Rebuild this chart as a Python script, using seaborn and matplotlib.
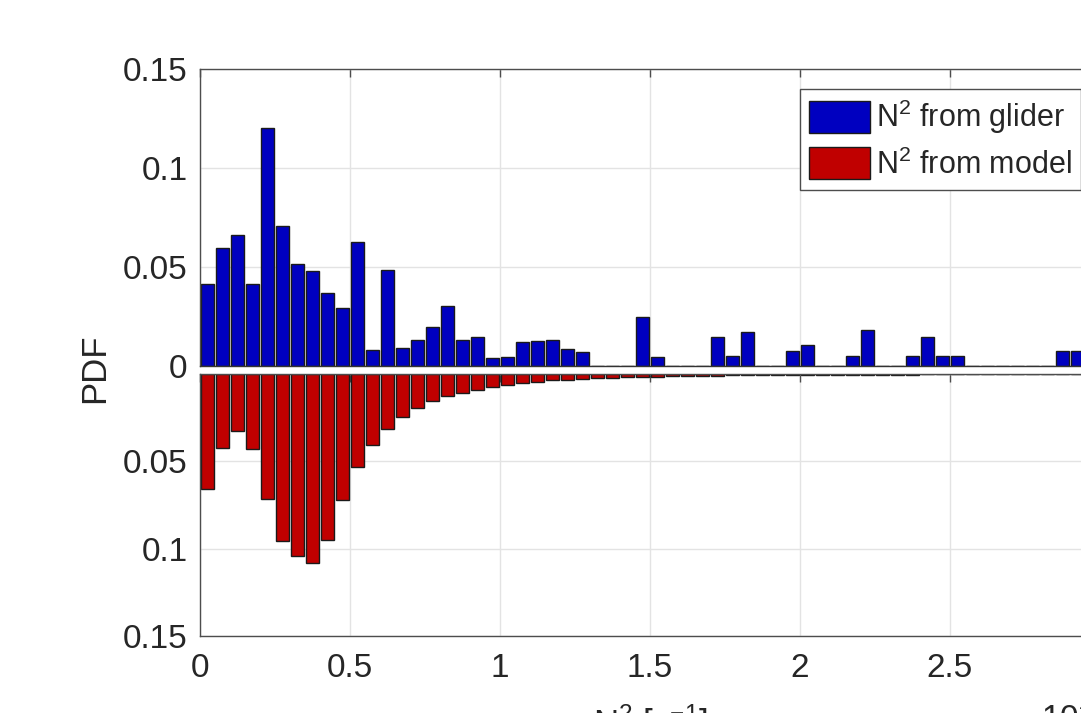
import numpy as np
import pandas as pd
import matplotlib
matplotlib.use("Agg")
import matplotlib.pyplot as plt
import seaborn as sns
from matplotlib.patches import Patch

# --- data (bin width 0.05) ---
bin_centers = np.round(np.arange(0.025, 3.0, 0.05), 3)
glider_pdf = [0.0416, 0.0594, 0.0663, 0.0413, 0.1204, 0.0705, 0.0517, 0.0478, 0.0369, 0.0293,
              0.0626, 0.0082, 0.0486, 0.0092, 0.0130, 0.0199, 0.0305, 0.0130, 0.0145, 0.0040,
              0.0045, 0.0121, 0.0128, 0.0133, 0.0086, 0.0072, 0.0, 0.0, 0.0, 0.0246,
              0.0044, 0.0, 0.0, 0.0, 0.0146, 0.0051, 0.0170, 0.0, 0.0, 0.0074,
              0.0104, 0.0, 0.0, 0.0052, 0.0184, 0.0, 0.0, 0.0052, 0.0146, 0.0052,
              0.0052, 0.0, 0.0, 0.0, 0.0, 0.0, 0.0, 0.0074, 0.0074, 0.0]
model_pdf = [0.0657, 0.0423, 0.0326, 0.0430, 0.0718, 0.0954, 0.1044, 0.1080, 0.0950, 0.0724,
             0.0533, 0.0404, 0.0316, 0.0248, 0.0196, 0.0156, 0.0128, 0.0107, 0.0091, 0.0076,
             0.0063, 0.0052, 0.0044, 0.0036, 0.0032, 0.0029, 0.0025, 0.0021, 0.0019, 0.0017,
             0.0015, 0.0013, 0.0011, 0.0010, 0.0009, 0.0008, 0.0007, 0.0007, 0.0006, 0.0005,
             0.0005, 0.0004, 0.0004, 0.0004, 0.0003, 0.0003, 0.0003, 0.0003, 0.0002, 0.0002,
             0.0002, 0.0002, 0.0002, 0.0001, 0.0001, 0.0001, 0.0001, 0.0001, 0.0001, 0.0001]
x_ticks = [0, 0.5, 1, 1.5, 2, 2.5, 3]
x_ticklabels = ["0", "0.5", "1", "1.5", "2", "2.5", ""]  # "3" falls outside the cropped figure
y_ticks = [0, 0.05, 0.1, 0.15]
y_ticklabels = ["0", "0.05", "0.1", "0.15"]

df = pd.DataFrame({"x": bin_centers, "glider": glider_pdf, "model": model_pdf})

BLUE = "#0000C0"
RED = "#C00000"
TXT = "#262626"
SPINE = "#4d4d4d"
GRID = "#e3e3e3"
FS = 24

sns.set_style("white")
plt.rcParams["font.family"] = ["Liberation Sans", "DejaVu Sans"]
plt.rcParams["mathtext.fontset"] = "custom"
plt.rcParams["mathtext.rm"] = "Liberation Sans"
plt.rcParams["mathtext.it"] = "Liberation Sans"

W, H = 1081, 713
fig = plt.figure(figsize=(W / 100, H / 100), dpi=100)

# axes extend past the right edge (the original figure is cropped)
left, width = 200 / W, 900 / W
ax_top = fig.add_axes([left, 1 - 366 / H, width, (366 - 69) / H])
ax_bot = fig.add_axes([left, 1 - 636 / H, width, (636 - 374) / H])

sns.barplot(data=df, x="x", y="glider", native_scale=True, color=BLUE, saturation=1,
            width=0.82, edgecolor="#1a1a1a", linewidth=1.0, ax=ax_top)
sns.barplot(data=df, x="x", y="model", native_scale=True, color=RED, saturation=1,
            width=0.82, edgecolor="#1a1a1a", linewidth=1.0, ax=ax_bot)

for ax in (ax_top, ax_bot):
    ax.set_xlim(0, 3)
    ax.set_ylim(0, 0.15)
    ax.set_xticks(x_ticks)
    ax.set_yticks(y_ticks)
    ax.set_xlabel("")
    ax.set_ylabel("")
    ax.grid(True, color=GRID, linewidth=1)
    ax.set_axisbelow(True)
    for s in ax.spines.values():
        s.set_visible(True)
        s.set_color(SPINE)
        s.set_linewidth(1.0)
    ax.tick_params(direction="in", length=6, width=1, color=SPINE, labelcolor=TXT,
                   labelsize=FS, top=True, right=True)
    ax.tick_params(axis="y", pad=9)
    ax.tick_params(axis="x", pad=12)

ax_top.spines["bottom"].set_color("#333333")
ax_top.set_yticklabels(y_ticklabels)
ax_top.tick_params(axis="x", labelbottom=False)
ax_bot.invert_yaxis()
ax_bot.set_yticklabels([""] + y_ticklabels[1:])
ax_bot.set_xticklabels(x_ticklabels)

fig.text(94.5 / W, 1 - 368 / H, "PDF", rotation=90, ha="center", va="center",
         fontsize=FS + 1, color=TXT)
ax_bot.set_xlabel("N$^2$ [s$^{-1}$]", fontsize=FS + 1, color=TXT)
ax_bot.xaxis.set_label_coords(0.5, -(702 - 636) / (636 - 374))
fig.text(1041 / W, 1 - 702 / H, "10$^{-4}$", ha="left", va="top", fontsize=FS, color=TXT)

handles = [Patch(facecolor=BLUE, edgecolor="#1a1a1a", linewidth=1.0),
           Patch(facecolor=RED, edgecolor="#1a1a1a", linewidth=1.0)]
leg = fig.legend(handles, ["N$^2$ from glider", "N$^2$ from model"],
                 loc="upper left", bbox_to_anchor=(800 / W, 1 - 89 / H),
                 fontsize=22, frameon=True, fancybox=False, framealpha=1,
                 edgecolor=SPINE, borderpad=0.3, labelspacing=0.35,
                 handlelength=2.0, handleheight=1.25, handletextpad=0.2,
                 borderaxespad=0)
leg.get_frame().set_linewidth(1.0)
for t in leg.get_texts():
    t.set_color(TXT)

fig.savefig("out.png", dpi=100)
